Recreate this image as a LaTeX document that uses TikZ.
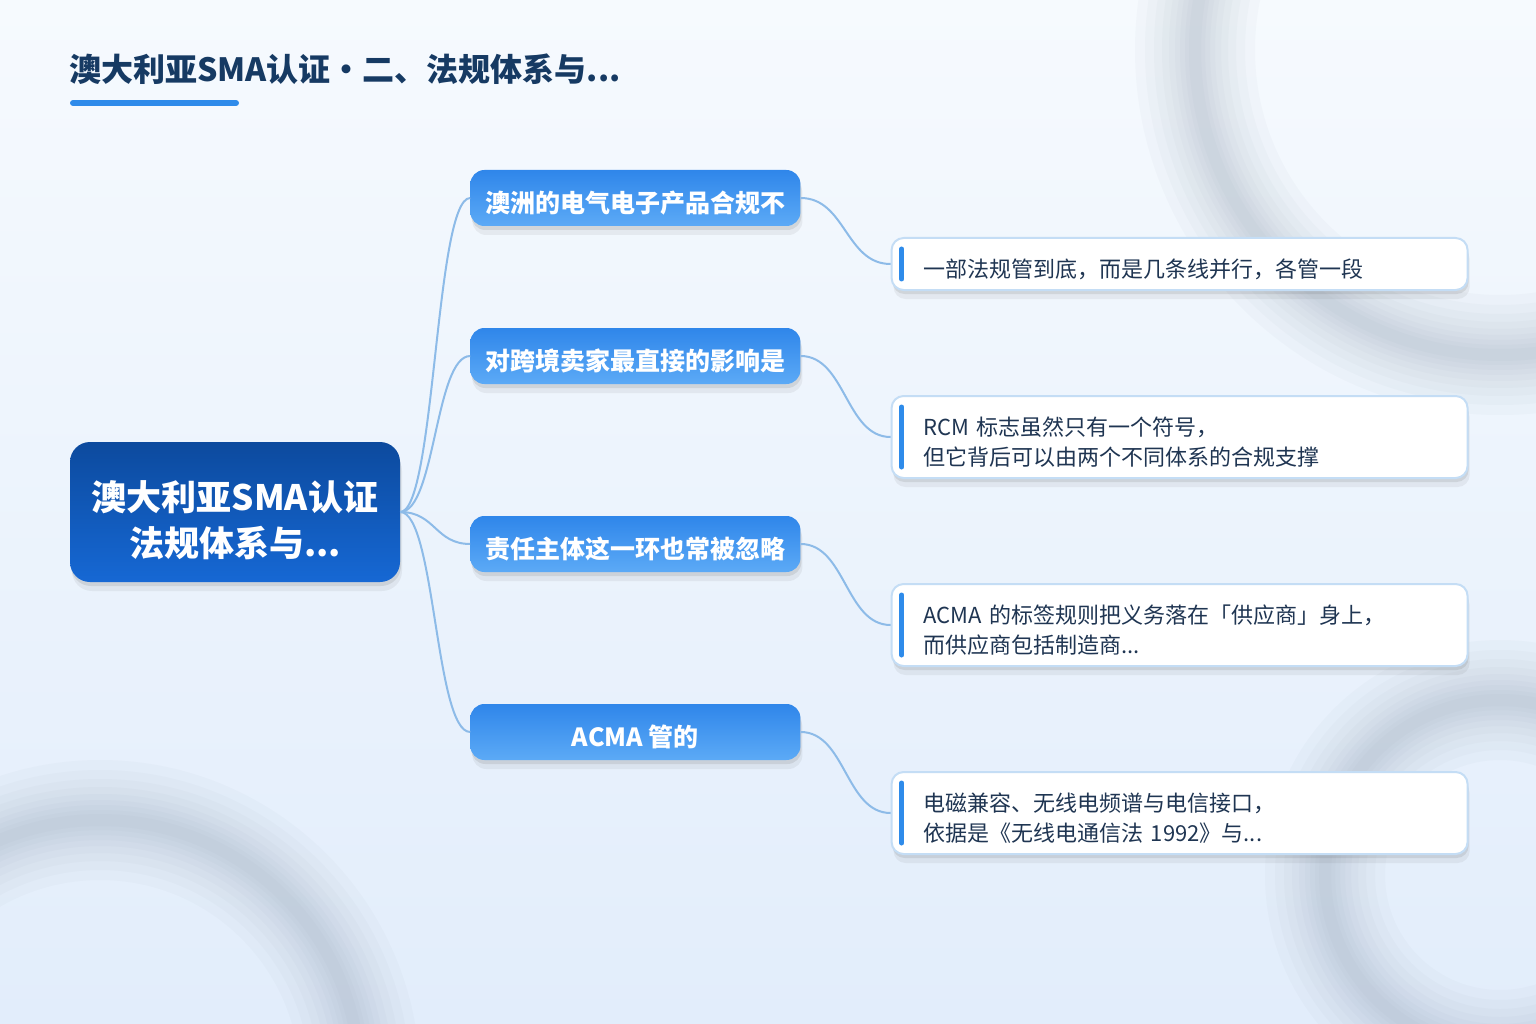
\documentclass[tikz,border=0pt]{standalone}
\usepackage{fontspec}
\setmainfont{Noto Sans CJK SC}
\usetikzlibrary{positioning,shadows}

\definecolor{bgtop}{HTML}{F6FAFE}
\definecolor{bgbot}{HTML}{E2EDFB}
\definecolor{titleblue}{HTML}{163A63}
\definecolor{accent}{HTML}{2E8BEA}
\definecolor{rootTop}{HTML}{0C4A9E}
\definecolor{rootBot}{HTML}{1668D4}
\definecolor{branchTop}{HTML}{2F86EA}
\definecolor{branchBot}{HTML}{5CAAF6}
\definecolor{leafline}{HTML}{C4DDF5}
\definecolor{leaftext}{HTML}{1F3552}
\definecolor{linkblue}{HTML}{8DBBE8}
\definecolor{ringgray}{HTML}{7F8FA3}

\tikzset{
  softshadow/.style={
    drop shadow={shadow xshift=1pt, shadow yshift=-4pt, opacity=0.12, fill=black!70},
    drop shadow={shadow xshift=2pt, shadow yshift=-9pt, opacity=0.08, fill=black!70}},
  title/.style={anchor=west, inner sep=0pt, text=titleblue, font=\fontsize{32}{36}\selectfont\bfseries},
  titlebar/.style={accent, line width=6pt, line cap=round},
  root/.style={rounded corners=20pt, top color=rootTop, bottom color=rootBot, draw=none,
    minimum width=330pt, minimum height=140pt, inner sep=0pt, text=white, align=center,
    text height=88pt, text depth=0pt, font=\fontsize{35}{46}\selectfont\bfseries, softshadow},
  branch/.style={rounded corners=14pt, top color=branchTop, bottom color=branchBot, draw=none,
    minimum width=330pt, minimum height=56pt, inner sep=0pt, text=white,
    text height=29pt, text depth=0pt, font=\fontsize{25}{30}\selectfont\bfseries, softshadow},
  leaf/.style={rounded corners=12pt, fill=white, draw=leafline, line width=2pt,
    text width=512pt, inner xsep=32pt, inner ysep=0pt, minimum height=82pt, align=left,
    text height=19pt, text depth=22pt, text=leaftext, font=\fontsize{22}{30}\selectfont, softshadow},
  oneline/.style={minimum height=52pt, text height=27pt, text depth=0pt},
  bar/.style={accent, line width=5pt, line cap=round},
  link/.style={linkblue, line width=2pt},
}

\begin{document}
\begin{tikzpicture}[x=1pt, y=-1pt, node distance=90pt]
  \useasboundingbox (0,0) rectangle (1536,1024);
  % background and soft rings
  \shade[top color=bgtop, bottom color=bgbot] (0,0) rectangle (1536,1024);
  \begin{scope}
    \clip (0,0) rectangle (1536,1024);
    \foreach \w in {120,100,82,66,52,40,30,20,12} {
      \draw[ringgray, line width=\w pt, opacity=0.04] (1500,50) circle (305);
      \draw[ringgray, line width=\w pt, opacity=0.04] (100,1080) circle (260);
      \draw[ringgray, line width=\w pt, opacity=0.04] (1500,875) circle (175);
    }
  \end{scope}

  % title
  \node[title] (title) at (69,69) {澳大利亚SMA认证・二、法规体系与...};
  \draw[titlebar] (73,103) -- (236,103);

  % root and branches
  \node[root] (root) at (235,512) {澳大利亚SMA认证\\法规体系与...};
  \node[branch, right=70pt of root, yshift=314pt] (b1) {澳洲的电气电子产品合规不};
  \node[branch, right=70pt of root, yshift=156pt] (b2) {对跨境卖家最直接的影响是};
  \node[branch, right=70pt of root, yshift=-32pt] (b3) {责任主体这一环也常被忽略};
  \node[branch, right=70pt of root, yshift=-220pt] (b4) {ACMA 管的};

  % leaves
  \node[leaf, oneline, right=of b1, yshift=-66pt] (l1) {一部法规管到底，而是几条线并行，各管一段};
  \node[leaf, right=of b2, yshift=-81pt] (l2) {RCM 标志虽然只有一个符号，\\但它背后可以由两个不同体系的合规支撑};
  \node[leaf, right=of b3, yshift=-81pt] (l3) {ACMA 的标签规则把义务落在「供应商」身上，\\而供应商包括制造商...};
  \node[leaf, right=of b4, yshift=-81pt] (l4) {电磁兼容、无线电频谱与电信接口，\\依据是《无线电通信法 1992》与...};

  \draw[bar] ([xshift=11pt,yshift=-12pt]l1.north west) -- ([xshift=11pt,yshift=12pt]l1.south west);
  \draw[bar] ([xshift=11pt,yshift=-12pt]l2.north west) -- ([xshift=11pt,yshift=12pt]l2.south west);
  \draw[bar] ([xshift=11pt,yshift=-12pt]l3.north west) -- ([xshift=11pt,yshift=12pt]l3.south west);
  \draw[bar] ([xshift=11pt,yshift=-12pt]l4.north west) -- ([xshift=11pt,yshift=12pt]l4.south west);

  % connectors
  \draw[link] (root.east) .. controls +(35,0) and +(-35,0) .. (b1.west);
  \draw[link] (root.east) .. controls +(35,0) and +(-35,0) .. (b2.west);
  \draw[link] (root.east) .. controls +(35,0) and +(-35,0) .. (b3.west);
  \draw[link] (root.east) .. controls +(35,0) and +(-35,0) .. (b4.west);
  \draw[link] (b1.east) .. controls +(45,0) and +(-45,0) .. (l1.west);
  \draw[link] (b2.east) .. controls +(45,0) and +(-45,0) .. (l2.west);
  \draw[link] (b3.east) .. controls +(45,0) and +(-45,0) .. (l3.west);
  \draw[link] (b4.east) .. controls +(45,0) and +(-45,0) .. (l4.west);
\end{tikzpicture}
\end{document}
